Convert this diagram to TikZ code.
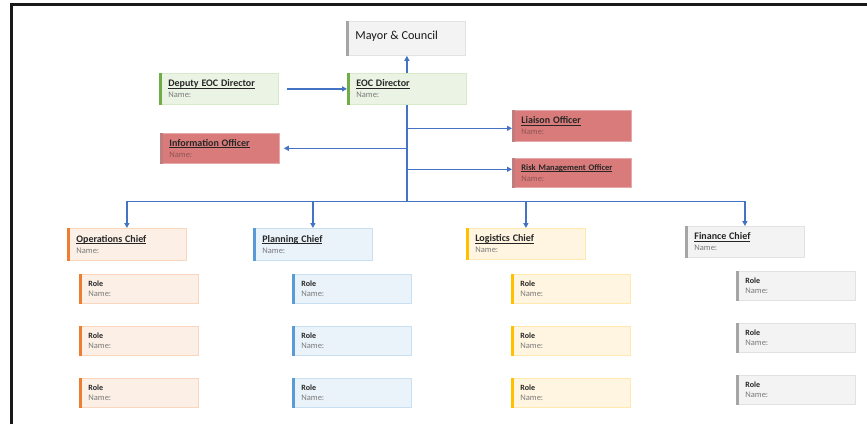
\documentclass[tikz,border=0pt]{standalone}
\usepackage{fontspec}
\setmainfont{Carlito}
\usetikzlibrary{arrows.meta}

% palette
\definecolor{linkblue}{HTML}{4472C4}
\definecolor{titlecol}{HTML}{262626}
\definecolor{namecol}{HTML}{7A7A7A}
\definecolor{rednamecol}{HTML}{8E5454}
\definecolor{greyfill}{HTML}{F3F3F3}\definecolor{greyline}{HTML}{E2E2E2}\definecolor{greybar}{HTML}{A5A5A5}
\definecolor{greenfill}{HTML}{EBF4E4}\definecolor{greenline}{HTML}{D6E9C8}\definecolor{greenbar}{HTML}{70AD47}
\definecolor{redfill}{HTML}{DA7B7B}\definecolor{redline}{HTML}{E6A9A9}\definecolor{redbar}{HTML}{BE7E80}
\definecolor{orangefill}{HTML}{FCEFE5}\definecolor{orangeline}{HTML}{F9D6BD}\definecolor{orangebar}{HTML}{ED7D31}
\definecolor{bluefill}{HTML}{EAF2FA}\definecolor{blueline}{HTML}{C9DFF2}\definecolor{bluebar}{HTML}{5B9BD5}
\definecolor{yellowfill}{HTML}{FFF5E0}\definecolor{yellowline}{HTML}{FFE9AE}\definecolor{yellowbar}{HTML}{FFC000}

% underline that sits at a fixed depth, through descenders
\newsavebox\ulbox
\newcommand\ulx[1]{\sbox\ulbox{#1}\rlap{\rule[-1.4pt]{\wd\ulbox}{0.6pt}}\usebox\ulbox}
\newcommand\ttl[1]{{\fontsize{10}{11}\selectfont\bfseries\color{titlecol}\ulx{#1}}}
\newcommand\ttlsmall[1]{{\fontsize{8.5}{11}\selectfont\bfseries\color{titlecol}\ulx{#1}}}
\newcommand\rolettl{{\fontsize{8}{10}\selectfont\bfseries\color{titlecol}Role}}
\newcommand\nm{\fontsize{8.5}{11}\selectfont\color{namecol}Name:}
\newcommand\rnm{\fontsize{8.5}{11}\selectfont\color{rednamecol}Name:}

\tikzset{
  card/.style={draw=#1line, fill=#1fill, line width=0.8pt, anchor=north west,
    inner xsep=9pt, inner ysep=0pt, text width=101pt, align=left,
    font=\fontsize{8.5}{11}\selectfont},
  conn/.style={draw=linkblue, line width=1.2pt},
  tip/.style={-{Triangle[length=5pt,width=5pt]}}
}

% box with a coloured bar down its left side
\newcommand\cardbox[6]{% name, x, y, height, scheme, content
  \node[card=#5, minimum height=#4pt] (#1) at (#2,#3) {#6};
  \fill[#5bar] (#1.north west) rectangle ([xshift=3pt]#1.south west);
}

\begin{document}
\begin{tikzpicture}[x=1pt,y=-1pt]
\useasboundingbox (0,0) rectangle (867,424);

% page frame
\draw[line width=2.2pt, black!90] (11.5,424) -- (11.5,4.5) -- (867,4.5);

% command staff
\cardbox{mayor}{346}{21}{34}{grey}{{\fontsize{12.2}{13}\selectfont\color{black!90}Mayor \& Council}\\[-4pt]\rule{0pt}{9pt}}
\cardbox{eoc}{347}{73}{31}{green}{\ttl{EOC Director}\\\nm}
\cardbox{deputy}{159}{73}{31}{green}{\ttl{Deputy EOC Director}\\\nm}
\cardbox{liaison}{512}{110}{31}{red}{\ttl{Liaison Officer}\\\rnm}
\cardbox{info}{160}{133}{30}{red}{\ttl{Information Officer}\\\rnm}
\cardbox{risk}{512}{158}{29}{red}{\ttlsmall{Risk Management Officer}\\\rnm}

% section chiefs
\cardbox{ops}{67}{228}{32}{orange}{\ttl{Operations Chief}\\\nm}
\cardbox{plan}{253}{228}{32}{blue}{\ttl{Planning Chief}\\\nm}
\cardbox{log}{466}{228}{31}{yellow}{\ttl{Logistics Chief}\\\nm}
\cardbox{fin}{685}{226}{31}{grey}{\ttl{Finance Chief}\\\nm}

% roles under each section
\foreach \i/\y in {1/274,2/326,3/378}{
  \cardbox{opsrole\i}{79}{\y}{29}{orange}{\rolettl\\[-1pt]\nm}
  \cardbox{planrole\i}{292}{\y}{29}{blue}{\rolettl\\[-1pt]\nm}
  \cardbox{logrole\i}{511}{\y}{29}{yellow}{\rolettl\\[-1pt]\nm}
}
\foreach \i/\y in {1/271,2/323,3/375}{
  \cardbox{finrole\i}{736}{\y}{29}{grey}{\rolettl\\[-1pt]\nm}
}

% connectors
\draw[conn,tip] (eoc.north) -- (eoc.north |- mayor.south);
\draw[conn,tip,shorten <=8pt] (deputy.east) -- (eoc.west);
\coordinate (bus) at ([yshift=-96.5pt]eoc.south);
\coordinate (jl) at ([yshift=-23.5pt]eoc.south);
\coordinate (ji) at ([yshift=-43.5pt]eoc.south);
\coordinate (jr) at ([yshift=-64.5pt]eoc.south);
\draw[conn] (eoc.south) -- (bus);
\draw[conn,tip] (jl) -- (jl -| liaison.west);
\draw[conn,tip,shorten >=4pt] (ji) -- (ji -| info.east);
\draw[conn,tip] (jr) -- (jr -| risk.west);
\draw[conn] (bus -| ops.north) -- (bus -| fin.north);
\foreach \n in {ops,plan,log,fin}
  \draw[conn,tip] (bus -| \n.north) -- (\n.north);
\end{tikzpicture}
\end{document}
